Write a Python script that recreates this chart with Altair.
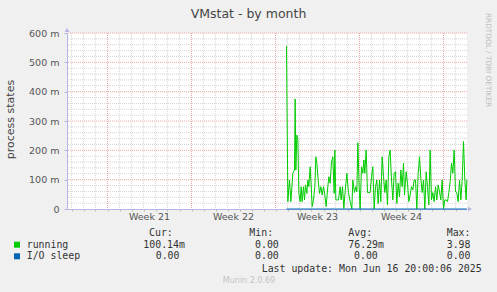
import altair as alt
import pandas as pd

# ---- data ----
run_hours = [0, 2.7, 6, 8.7, 12.7, 16, 17.3, 18.7, 20.7, 22.7, 24.7, 27.3, 29.3, 31.3, 34, 36, 38, 40.7,
             42.7, 44.7, 47.3, 49.3, 51.3, 54, 56.7, 58.7, 60.7, 63.3, 66, 68.7, 71.3, 74, 76.7, 79.3, 82,
             84.7, 87.3, 90, 92.7, 95.3, 96.7, 98.7, 104, 107.3, 109.3, 112, 114.7,
             117.3, 120.7, 124, 127.3, 130.7, 132.7, 136, 138.7, 140.7, 142.7, 145.3, 147.3, 150, 152.7,
             154.7, 156.7, 159.3, 162, 164.7, 167.3, 170, 172.7, 175.3, 178, 180.7, 183.3, 186, 188.7,
             191.3, 194, 196.7, 199.3, 202, 204.7, 207.3, 210, 212.7, 215.3, 218, 220.7, 223.3, 226,
             228.7, 231.3,
             234, 236, 239.3, 242, 244.7, 247.3, 250, 252.7, 255.3, 258, 260.7, 263.3, 266, 268.7, 271.3,
             274, 276.7, 279.3, 282, 284.7, 287.3, 290, 292.7, 295.3, 298, 300.7, 303.3, 306, 308.7,
             311.3, 314, 316.7, 319.3, 322, 324.7, 327.3, 330, 332.7, 335.3, 338, 340.7, 343.3, 346,
             348.7, 351.3, 354, 356.7, 359.3, 360.7]
run_values = [556, 25, 99, 25, 122, 133, 375, 133, 252, 235, 53, 25, 76, 25, 76, 31, 82, 53,
              99, 76, 144, 82, 8, 31, 76, 178, 156, 99, 53, 76, 48, 76, 48, 8, 65,
              110, 88, 161, 178, 53, 201, 31, 31, 76, 31, 76, 2,
              59, 122, 56, 25, 0, 99, 56, 76, 59, 226, 76, 0, 144, 122,
              167, 122, 201, 56, 56, 56, 110, 144, 0, 76, 99, 19, 99, 25,
              178, 110, 56, 99, 14, 178, 201, 99, 31, 122, 127, 19, 88, 42,
              133, 76,
              156, 48, 127, 88, 25, 48, 76, 65, 99, 99, 0, 122, 178, 105, 56,
              99, 0, 127, 76, 14, 201, 31, 56, 25, 76, 31, 82, 59, 31,
              99, 0, 31, 31, 25, 56, 93, 156, 122, 201, 59, 56, 25, 99,
              31, 99, 230, 99, 31, 100]
io_hours = [0, 360.7]
io_values = [0, 0]

data_start = "2025-06-01 22:00"
view_start = "2025-05-14 15:00"
view_end = "2025-06-16 23:00"
week_labels = ["Week 21", "Week 22", "Week 23", "Week 24"]
week_starts = ["2025-05-18", "2025-05-25", "2025-06-01", "2025-06-08", "2025-06-15"]
y_ticks = [0, 100, 200, 300, 400, 500, 600]

legend_headers = ["Cur:", "Min:", "Avg:", "Max:"]
legend_running = ["100.14m", "0.00", "76.29m", "3.98"]
legend_io = ["0.00", "0.00", "0.00", "0.00"]


def ms(ts):
    return int(pd.Timestamp(ts, tz="UTC").value // 10**6)


base = ms(data_start)
H = 3600 * 1000
run_df = pd.DataFrame({"t": [base + h * H for h in run_hours], "v": run_values})
io_df = pd.DataFrame({"t": [base + h * H for h in io_hours], "v": io_values})

days = pd.date_range("2025-05-15", "2025-06-16", freq="D", tz="UTC")
day_ms = [int(d.value // 10**6) for d in days]
day_df = pd.DataFrame({"t": day_ms})
week_df = pd.DataFrame({"t": [ms(w) for w in week_starts]})
mid_df = pd.DataFrame({"t": [(ms(week_starts[i]) + ms(week_starts[i + 1])) // 2 for i in range(4)],
                       "label": week_labels})
ymin_df = pd.DataFrame({"v": [v for v in range(20, 600, 20) if v % 100]})
ymaj_df = pd.DataFrame({"v": y_ticks[1:]})

FONT = "DejaVu Sans"
MONO = "DejaVu Sans Mono"
AXC = "#B4B4E6"

xs = alt.Scale(type="utc", domain=[ms(view_start), ms(view_end)])
ys = alt.Scale(domain=[0, 600])
xa = alt.Axis(values=day_ms, labels=False, title=None, grid=False,
              domainColor=AXC, tickColor="#B8B8B8", tickSize=2, domainWidth=1)
ya = alt.Axis(values=y_ticks, title=None, grid=False, domainColor=AXC, tickColor=AXC,
              tickSize=3, labelPadding=5, labelFont=FONT, labelFontSize=9.5,
              labelColor="#555555",
              labelExpr="datum.value == 0 ? '0' : datum.value + ' m'")
X = alt.X("t:T", scale=xs, axis=xa)
Y = alt.Y("v:Q", scale=ys, axis=ya)

GRID_MIN = "#D6D6D6"
GRID_MAJ = "#EBA8A8"
minor_v = alt.Chart(day_df).mark_rule(color=GRID_MIN, strokeDash=[1, 1], strokeWidth=1).encode(x=X)
minor_h = alt.Chart(ymin_df).mark_rule(color=GRID_MIN, strokeDash=[1, 1], strokeWidth=1).encode(y=Y)
major_v = alt.Chart(week_df).mark_rule(color=GRID_MAJ, strokeDash=[1, 1], strokeWidth=1).encode(x=X)
major_h = alt.Chart(ymaj_df).mark_rule(color=GRID_MAJ, strokeDash=[1, 1], strokeWidth=1).encode(y=Y)

run_line = alt.Chart(run_df).mark_line(color="#00CC00", strokeWidth=1).encode(x=X, y=Y)
io_line = alt.Chart(io_df).mark_line(color="#0066B3", strokeWidth=1).encode(x=X, y=Y)

week_text = alt.Chart(mid_df).mark_text(font=FONT, fontSize=9.5, color="#555555", baseline="middle").encode(
    x=X, y=alt.value(184.3), text="label:N")

layers = [minor_v, minor_h, major_v, major_h, run_line, io_line, week_text]

one = pd.DataFrame({"a": [0]})


def txt(s, x, y, **kw):
    return alt.Chart(one).mark_text(text=s, baseline="middle", **kw).encode(x=alt.value(x), y=alt.value(y))


# arrows on axes
layers.append(alt.Chart(one).mark_point(shape="triangle-up", filled=True, color=AXC, size=22, opacity=1).encode(
    x=alt.value(0), y=alt.value(-3)))
layers.append(alt.Chart(one).mark_point(shape="triangle-right", filled=True, color=AXC, size=22, opacity=1).encode(
    x=alt.value(403), y=alt.value(176)))

layers.append(txt("VMstat - by month", 181.5, -19, font=FONT, fontSize=12.5, color="#444444", align="center"))
layers.append(txt("process states", -56, 86.5, font=FONT, fontSize=11, color="#444444", align="center", angle=270))
layers.append(txt("RRDTOOL / TOBI OETIKER", 421, 27, font=FONT, fontSize=7.3, color="#C0C0C0",
                  align="center", angle=90))

hx = [149, 249.3, 348.3, 446.7]
rx = [143.3, 255, 348.3, 446.7]
ix = [155.7, 255, 354, 446.7]
for s, x in zip(legend_headers, hx):
    layers.append(txt(s, x - 67, 199.7, font=MONO, fontSize=9.9, color="#333333", align="left"))
for s, x in zip(legend_running, rx):
    layers.append(txt(s, x - 67, 211.7, font=MONO, fontSize=9.9, color="#333333", align="left"))
for s, x in zip(legend_io, ix):
    layers.append(txt(s, x - 67, 223.3, font=MONO, fontSize=9.9, color="#333333", align="left"))
layers.append(txt("running", 26.7 - 67, 211.7, font=MONO, fontSize=9.9, color="#333333", align="left"))
layers.append(txt("I/O sleep", 26.7 - 67, 223.3, font=MONO, fontSize=9.9, color="#333333", align="left"))
layers.append(alt.Chart(one).mark_square(color="#00CC00", size=36, opacity=1).encode(
    x=alt.value(17 - 67), y=alt.value(211.7)))
layers.append(alt.Chart(one).mark_square(color="#0066B3", size=36, opacity=1).encode(
    x=alt.value(17 - 67), y=alt.value(223.3)))
layers.append(txt("Last update: Mon Jun 16 20:00:06 2025", 261.7 - 67, 235.7, font=MONO, fontSize=9.9,
                  color="#333333", align="left"))
layers.append(txt("Munin 2.0.69", 182, 248, font=FONT, fontSize=8, color="#C4C4C4", align="center"))

chart = alt.layer(*layers).properties(
    width=400, height=176,
    autosize=alt.AutoSizeParams(type="none"),
    padding={"left": 67, "top": 33, "right": 30, "bottom": 83},
    background="#F0F0F0",
).configure_view(fill="white", stroke=None)

chart.save("out.html", embed_options={"renderer": "svg", "actions": False})
